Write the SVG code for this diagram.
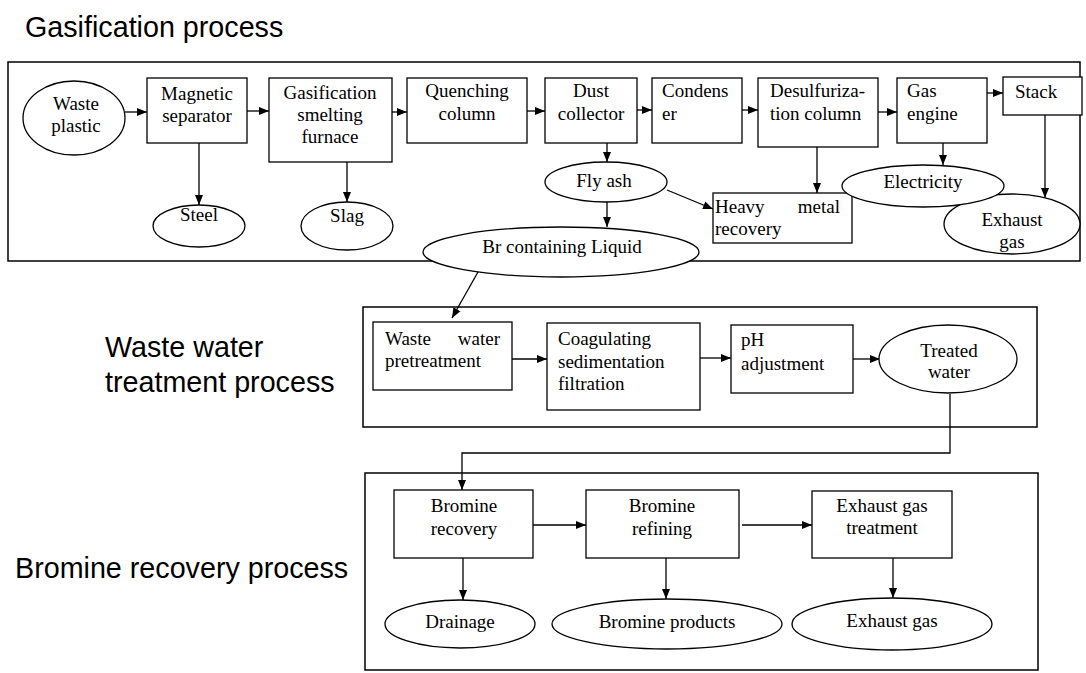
<svg xmlns="http://www.w3.org/2000/svg" width="1086" height="673" viewBox="0 0 1086 673">
<style>
.title{font-family:"Liberation Sans",Arial,sans-serif;font-size:28.7px;fill:#000}
.t{font-family:"Liberation Serif","Times New Roman",serif;font-size:19px;fill:#000}
.c{text-anchor:middle}
.box{fill:#fff;stroke:#000;stroke-width:1.3}
.frame{fill:none;stroke:#000;stroke-width:1.5}
.ln{fill:none;stroke:#000;stroke-width:1.3}
.arr{marker-end:url(#ah)}
</style>
<defs>
<marker id="ah" markerUnits="userSpaceOnUse" markerWidth="10" markerHeight="10" viewBox="0 0 10 10" refX="10" refY="5" orient="auto">
<path d="M0,1 L10,5 L0,9 Z" fill="#000"/>
</marker>
</defs>
<rect width="1086" height="673" fill="#fff"/>

<g id="titles">
<text class="title" x="25" y="37">Gasification process</text>
<text class="title" x="105" y="357">Waste water</text>
<text class="title" x="105" y="392">treatment process</text>
<text class="title" x="15" y="578">Bromine recovery process</text>
</g>

<g id="frames">
<rect id="frame-gasification" class="frame" x="8" y="62" width="1072" height="199"/>
<rect id="frame-wastewater" class="frame" x="363" y="307" width="674" height="120"/>
<rect id="frame-bromine" class="frame" x="365" y="473" width="673" height="197"/>
</g>

<g id="connectors">
<line class="ln arr" x1="125" y1="112" x2="147" y2="112"/>
<line class="ln arr" x1="247" y1="111" x2="269" y2="111"/>
<line class="ln arr" x1="392" y1="112" x2="407" y2="112"/>
<line class="ln arr" x1="527" y1="111" x2="545" y2="111"/>
<line class="ln arr" x1="637" y1="110" x2="652" y2="110"/>
<line class="ln arr" x1="742" y1="110" x2="758" y2="110"/>
<line class="ln arr" x1="878" y1="112" x2="897" y2="112"/>
<line class="ln arr" x1="987" y1="93" x2="1003" y2="93"/>
<line class="ln arr" x1="199" y1="143" x2="199" y2="205"/>
<line class="ln arr" x1="347" y1="162" x2="347" y2="202"/>
<line class="ln arr" x1="607" y1="143" x2="607" y2="162"/>
<line class="ln arr" x1="607" y1="202" x2="607" y2="227"/>
<line class="ln arr" x1="667" y1="190" x2="713" y2="209"/>
<line class="ln arr" x1="817" y1="147" x2="817" y2="193"/>
<line class="ln arr" x1="943" y1="143" x2="943" y2="165"/>
<line class="ln arr" x1="1045" y1="115" x2="1045" y2="198"/>
<line class="ln arr" x1="478" y1="272" x2="452" y2="318"/>
<line class="ln arr" x1="512" y1="359" x2="547" y2="359"/>
<line class="ln arr" x1="700" y1="358" x2="731" y2="358"/>
<line class="ln arr" x1="853" y1="359" x2="880" y2="359"/>
<polyline class="ln arr" points="950,394 950,453 462,453 462,490"/>
<line class="ln arr" x1="533" y1="525" x2="586" y2="525"/>
<line class="ln arr" x1="742" y1="525" x2="812" y2="525"/>
<line class="ln arr" x1="463" y1="558" x2="463" y2="600"/>
<line class="ln arr" x1="666" y1="558" x2="666" y2="599"/>
<line class="ln arr" x1="893" y1="558" x2="893" y2="598"/>
</g>

<g id="waste-plastic">
<ellipse class="box" cx="74" cy="118" rx="51" ry="37"/>
<text class="t c" x="76" y="110">Waste</text>
<text class="t c" x="76" y="132">plastic</text>
</g>
<g id="magnetic-separator">
<rect class="box" x="147" y="78" width="100" height="65"/>
<text class="t c" x="197" y="100">Magnetic</text>
<text class="t c" x="197" y="122">separator</text>
</g>
<g id="gasification-furnace">
<rect class="box" x="269" y="78" width="123" height="84"/>
<text class="t c" x="330" y="99">Gasification</text>
<text class="t c" x="330" y="121">smelting</text>
<text class="t c" x="330" y="143">furnace</text>
</g>
<g id="quenching-column">
<rect class="box" x="407" y="78" width="120" height="65"/>
<text class="t c" x="467" y="97">Quenching</text>
<text class="t c" x="467" y="120">column</text>
</g>
<g id="dust-collector">
<rect class="box" x="545" y="78" width="92" height="65"/>
<text class="t c" x="591" y="97">Dust</text>
<text class="t c" x="591" y="120">collector</text>
</g>
<g id="condenser">
<rect class="box" x="652" y="78" width="90" height="65"/>
<text class="t" x="662" y="97">Condens</text>
<text class="t" x="662" y="120">er</text>
</g>
<g id="desulfurization-column">
<rect class="box" x="758" y="78" width="120" height="69"/>
<text class="t" x="770" y="97">Desulfuriza-</text>
<text class="t" x="770" y="120">tion column</text>
</g>
<g id="gas-engine">
<rect class="box" x="897" y="78" width="90" height="65"/>
<text class="t" x="907" y="97">Gas</text>
<text class="t" x="907" y="120">engine</text>
</g>
<g id="stack">
<rect class="box" x="1003" y="77" width="79" height="38"/>
<text class="t" x="1015" y="98">Stack</text>
</g>
<g id="steel">
<ellipse class="box" cx="199" cy="226" rx="46" ry="21"/>
<text class="t c" x="199" y="221">Steel</text>
</g>
<g id="slag">
<ellipse class="box" cx="347" cy="226" rx="46" ry="24"/>
<text class="t c" x="347" y="222">Slag</text>
</g>
<g id="fly-ash">
<ellipse class="box" cx="606" cy="182" rx="61" ry="20"/>
<text class="t c" x="604" y="187">Fly ash</text>
</g>
<g id="heavy-metal-recovery">
<rect class="box" x="713" y="193" width="139" height="50"/>
<text class="t" x="715" y="213">Heavy</text>
<text class="t" x="840" y="213" text-anchor="end">metal</text>
<text class="t" x="715" y="235">recovery</text>
</g>
<g id="exhaust-gas-1">
<ellipse class="box" cx="1012" cy="224" rx="68" ry="30"/>
<text class="t c" x="1012" y="226">Exhaust</text>
<text class="t c" x="1012" y="248">gas</text>
</g>
<g id="electricity">
<ellipse class="box" cx="923" cy="186" rx="81" ry="21"/>
<text class="t c" x="923" y="188">Electricity</text>
</g>
<g id="br-liquid">
<ellipse class="box" cx="561" cy="252" rx="138" ry="25"/>
<text class="t c" x="562" y="253">Br containing Liquid</text>
</g>

<g id="waste-water-pretreatment">
<rect class="box" x="373" y="322" width="139" height="68"/>
<text class="t" x="385" y="345">Waste</text>
<text class="t" x="500" y="345" text-anchor="end">water</text>
<text class="t" x="385" y="367">pretreatment</text>
</g>
<g id="coagulating">
<rect class="box" x="547" y="323" width="153" height="87"/>
<text class="t" x="558" y="345">Coagulating</text>
<text class="t" x="558" y="368">sedimentation</text>
<text class="t" x="558" y="390">filtration</text>
</g>
<g id="ph-adjustment">
<rect class="box" x="731" y="325" width="122" height="68"/>
<text class="t" x="741" y="346">pH</text>
<text class="t" x="741" y="370">adjustment</text>
</g>
<g id="treated-water">
<ellipse class="box" cx="948" cy="359" rx="69" ry="34"/>
<text class="t c" x="949" y="357">Treated</text>
<text class="t c" x="949" y="378">water</text>
</g>

<g id="bromine-recovery">
<rect class="box" x="394" y="490" width="139" height="68"/>
<text class="t c" x="464" y="512">Bromine</text>
<text class="t c" x="464" y="535">recovery</text>
</g>
<g id="bromine-refining">
<rect class="box" x="586" y="490" width="153" height="68"/>
<text class="t c" x="662" y="512">Bromine</text>
<text class="t c" x="662" y="535">refining</text>
</g>
<g id="exhaust-gas-treatment">
<rect class="box" x="812" y="491" width="140" height="67"/>
<text class="t c" x="882" y="512">Exhaust gas</text>
<text class="t c" x="882" y="534">treatment</text>
</g>
<g id="drainage">
<ellipse class="box" cx="460" cy="624" rx="75" ry="24"/>
<text class="t c" x="460" y="628">Drainage</text>
</g>
<g id="bromine-products">
<ellipse class="box" cx="667" cy="624" rx="115" ry="25"/>
<text class="t c" x="667" y="628">Bromine products</text>
</g>
<g id="exhaust-gas-2">
<ellipse class="box" cx="892" cy="624" rx="100" ry="26"/>
<text class="t c" x="892" y="627">Exhaust gas</text>
</g>
</svg>
